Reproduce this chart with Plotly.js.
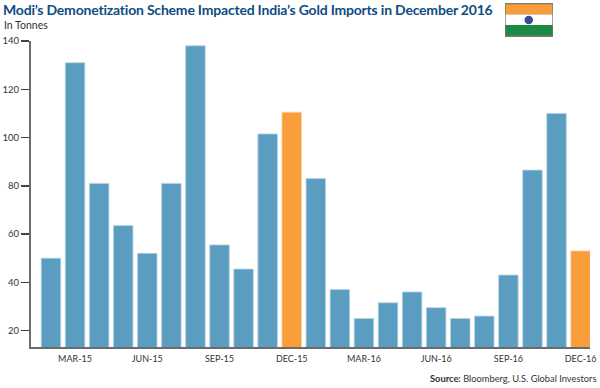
<!DOCTYPE html>
<html><head><meta charset="utf-8">
<script src="https://cdn.plot.ly/plotly-3.0.1.min.js"></script>
<style>html,body{margin:0;padding:0;background:#fff}.gtitle{letter-spacing:-.2px}</style></head>
<body><div id="c" style="width:600px;height:388px"></div>
<script>
const months = ["FEB-15","MAR-15","APR-15","MAY-15","JUN-15","JUL-15","AUG-15","SEP-15","OCT-15","NOV-15","DEC-15","JAN-16","FEB-16","MAR-16","APR-16","MAY-16","JUN-16","JUL-16","AUG-16","SEP-16","OCT-16","NOV-16","DEC-16"];
const tonnes = [50,131,81,63.5,52,81,138,55.5,45.5,101.5,110.5,83,37,25,31.5,36,29.5,25,26,43,86.5,110,53];
const highlighted = ["DEC-15","DEC-16"];
const tickLabels = ["MAR-15","JUN-15","SEP-15","DEC-15","MAR-16","JUN-16","SEP-16","DEC-16"];
const yTicks = [20,40,60,80,100,120,140];
const BLUE="#5a9dc0", ORANGE="#f99d3a", TXT="#333";
const F="Lato, 'Open Sans', sans-serif";
const colors = months.map(m=>highlighted.includes(m)?ORANGE:BLUE);
const lines = months.map(m=>highlighted.includes(m)?"#fbd2a3":"#b5d3e3");
const L=31,R=590,T=41,B=347;
const px=v=>(v-L)/(R-L), py=v=>(B-v)/(B-T);
const rect=(x0,y0,x1,y1,c)=>({type:"rect",xref:"paper",yref:"paper",x0:px(x0),x1:px(x1),y0:py(y1),y1:py(y0),fillcolor:c,line:{width:0},layer:"above"});
Plotly.newPlot("c",[{type:"bar",x:months,y:tonnes,marker:{color:colors,line:{color:lines,width:0.8}},hoverinfo:"x+y"}],{
 width:600,height:388,margin:{l:L,r:600-R,t:T,b:388-B},paper_bgcolor:"#fff",plot_bgcolor:"#fff",bargap:0.19,showlegend:false,
 font:{family:F,color:TXT,size:9.5},
 title:{text:"<b>Modi’s Demonetization Scheme Impacted India’s Gold Imports in December 2016</b>",x:3/600,xanchor:"left",xref:"container",y:1-10.5/388,yref:"container",yanchor:"middle",font:{family:F,size:14,color:"#0f4c81"}},
 xaxis:{type:"category",categoryorder:"array",categoryarray:months,tickmode:"array",tickvals:tickLabels,ticktext:tickLabels,range:[-0.83,22.39],showgrid:false,zeroline:false,showline:true,linecolor:"#6b6b6b",linewidth:2,ticks:"",ticklabelstandoff:2,tickfont:{family:F,size:9,color:TXT},tickangle:0,automargin:false},
 yaxis:{range:[13.2,140],tickmode:"array",tickvals:yTicks,showgrid:false,zeroline:false,showline:true,linecolor:"#6b6b6b",linewidth:2,ticks:"outside",ticklen:8,tickwidth:1.5,tickcolor:"#444",tickfont:{family:F,size:9.5,color:TXT},automargin:false},
 annotations:[
  {xref:"paper",yref:"paper",x:px(3),y:py(25),xanchor:"left",yanchor:"middle",showarrow:false,xshift:-1,text:"In Tonnes",font:{family:F,size:10.5,color:TXT}},
  {xref:"paper",yref:"paper",x:px(598),y:py(378.5),xanchor:"right",yanchor:"middle",showarrow:false,text:"<b>Source:</b> Bloomberg, U.S. Global Investors",font:{family:F,size:9.3,color:TXT}}
 ],
 shapes:[
  rect(505,3,553,37,"#7a7a7a"),
  rect(505.7,4.2,552.3,14.5,"#f99d3a"),
  rect(505.7,14.5,552.3,25,"#ffffff"),
  rect(505.7,25,552.3,35.5,"#1b8a44"),
  {type:"circle",xref:"paper",yref:"paper",x0:px(524.5),x1:px(533),y0:py(24.2),y1:py(15.8),fillcolor:"#3a4a9a",line:{width:0},layer:"above"}
 ]
},{displayModeBar:false,staticPlot:true});
</script></body></html>
